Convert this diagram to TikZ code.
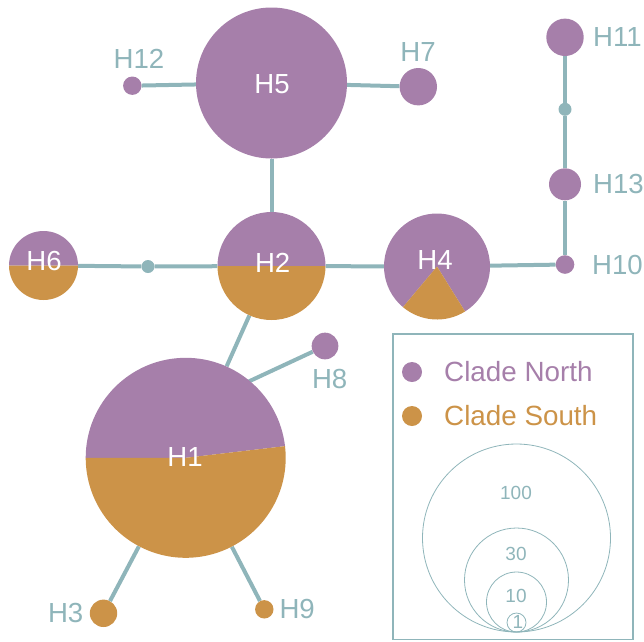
\documentclass[tikz,border=0pt]{standalone}
\usepackage{fontspec}
\setmainfont{Liberation Sans}
\usetikzlibrary{positioning, calc, backgrounds}

\definecolor{north}{HTML}{A67FAA}
\definecolor{south}{HTML}{CC9348}
\definecolor{linkc}{HTML}{8FB5BA}

\begin{document}
\begin{tikzpicture}[x=1pt, y=-1pt,
    hap/.style={circle, inner sep=0pt, fill=north},
    pienode/.style={circle, inner sep=0pt},
    med/.style={circle, inner sep=0pt, fill=linkc, minimum size=13pt},
    link/.style={draw=linkc, line width=4pt},
    lbl/.style={text=linkc, inner sep=0pt, font=\fontsize{27.6}{30}\selectfont},
    inlbl/.style={text=white, inner sep=0pt, font=\fontsize{27.6}{30}\selectfont},
    keytext/.style={inner sep=0pt, anchor=west, font=\fontsize{27.8}{30}\selectfont},
    sizelbl/.style={text=linkc, inner sep=0pt, font=\fontsize{19}{21}\selectfont}]
                \useasboundingbox (0,0) rectangle (644,641);

                % haplotypes
                \node[hap, minimum size=151pt] (H5) at (271.5,83) {};
                \node[pienode, minimum size=108pt] (H2) at (271.5,266) {};
                \node[pienode, minimum size=69pt] (H6) at (43.5,265.5) {};
                \node[pienode, minimum size=106pt] (H4) at (437,266.5) {};
                \node[pienode, minimum size=200pt] (H1) at (185.7,457.8) {};
                \node[hap, minimum size=18.4pt] (H12) at (132.3,85.7) {};
                \node[hap, minimum size=37.4pt] (H7) at (418.3,86.7) {};
                \node[hap, minimum size=37.4pt] (H11) at (565,37.3) {};
                \node[hap, minimum size=32pt] (H13) at (565,184.3) {};
                \node[hap, minimum size=18.6pt] (H10) at (565,264.5) {};
                \node[hap, minimum size=26.7pt] (H8) at (325,346) {};
                \node[hap, fill=south, minimum size=27.4pt] (H3) at (103.5,613.3) {};
                \node[hap, fill=south, minimum size=18.4pt] (H9) at (264.3,609.3) {};
                \node[med] (M1) at (148,266.5) {};
                \node[med] (M2) at (565,109.3) {};
                \coordinate (H1e) at (210,399.5);

                % pies
                \fill[north] (H2.center) -- +(180:54) arc[start angle=180, end angle=360, radius=54] -- cycle;
                \fill[south] (H2.center) -- +(0:54) arc[start angle=0, end angle=180, radius=54] -- cycle;
                \fill[north] (H6.center) -- +(180:34.5) arc[start angle=180, end angle=360, radius=34.5] -- cycle;
                \fill[south] (H6.center) -- +(0:34.5) arc[start angle=0, end angle=180, radius=34.5] -- cycle;
                \fill[north] (H4.center) -- +(130:53) arc[start angle=130, end angle=418, radius=53] -- cycle;
                \fill[south] (H4.center) -- +(58:53) arc[start angle=58, end angle=130, radius=53] -- cycle;
                \fill[north] (H1.center) -- +(180:100) arc[start angle=180, end angle=353.3, radius=100] -- cycle;
                \fill[south] (H1.center) -- +(-6.7:100) arc[start angle=-6.7, end angle=180, radius=100] -- cycle;

                % links
                \begin{scope}[on background layer]
                    \draw[link] (H12) -- (H5);
                    \draw[link] (H5) -- (H7);
                    \draw[link] (H5) -- (H2);
                    \draw[link] (H6) -- (M1) -- (H2);
                    \draw[link] (H2) -- (H4);
                    \draw[link] (H4) -- (H10);
                    \draw[link] (H10) -- (H13) -- (M2) -- (H11);
                    \draw[link] (H2) -- (H1);
                    \draw[link] (H1e) -- (H8);
                    \draw[link] (H1) -- (H3);
                    \draw[link] (H1) -- (H9);
                \end{scope}

                % labels
                \node[inlbl] (L5) at (272,84) {H5};
                \node[inlbl] (L2) at (272.7,263) {H2};
                \node[inlbl] (L4) at (435,260) {H4};
                \node[inlbl] (L1) at (185,456.7) {H1};
                \node[inlbl] (L6) at (44,261) {H6};
                \node[lbl] (L12) at (139,59) {H12};
                \node[lbl] (L7) at (418,52) {H7};
                \node[lbl, anchor=west] (L11) at ($(H11)+(28,0)$) {H11};
                \node[lbl, anchor=west] (L13) at ($(H13)+(28,0)$) {H13};
                \node[lbl, anchor=west] (L10) at ($(H10)+(27,0)$) {H10};
                \node[lbl] (L8) at (329.7,379) {H8};
                \node[lbl, anchor=east] (L3) at ($(H3)-(20,0)$) {H3};
                \node[lbl, anchor=west] (L9) at ($(H9)+(15,0)$) {H9};

                % legend
                \draw[linkc, line width=1.3pt] (393,334) rectangle (633,639.5);
                \node[hap, minimum size=20pt] (KN) at (412,372) {};
                \node[hap, fill=south, minimum size=20pt] (KS) at (412,416) {};
                \node[keytext, text=north] (TN) at (444,372) {Clade North};
                \node[keytext, text=south] (TS) at (444,416) {Clade South};
                \draw[linkc, line width=0.8pt] (516.5,538) circle[radius=94];
                \draw[linkc, line width=0.8pt] (516.5,580) circle[radius=52];
                \draw[linkc, line width=0.8pt] (516.5,602) circle[radius=30];
                \draw[linkc, line width=0.8pt] (516.5,622.5) circle[radius=9.5];
                \node[sizelbl] (S100) at (516,493) {100};
                \node[sizelbl] (S30) at (516,554) {30};
                \node[sizelbl] (S10) at (516,596) {10};
                \node[sizelbl] (S1) at (518,622) {1};
            \end{tikzpicture}
\end{document}
